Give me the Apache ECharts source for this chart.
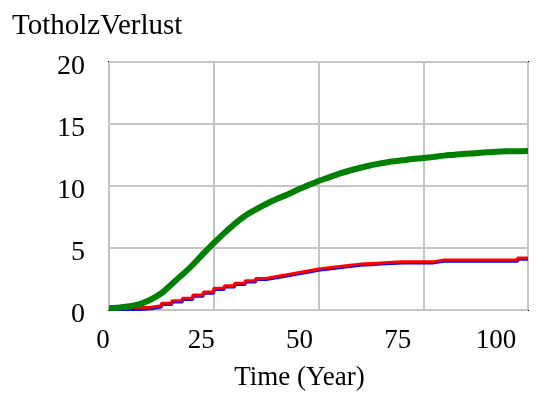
<!DOCTYPE html>
<html>
<head>
<meta charset="utf-8">
<script src="https://cdn.jsdelivr.net/npm/echarts@6/dist/echarts.min.js"></script>
<style>
  html, body { margin: 0; padding: 0; background: #fff; }
  #chart { width: 557px; height: 394px; }
</style>
</head>
<body>
<div id="chart"></div>
<script>
// time steps (years)
var years = [0, 2.5, 5, 7.5, 10, 12.5, 15, 17.5, 20, 22.5, 25, 27.5, 30, 32.5, 35, 37.5, 40,
  42.5, 45, 47.5, 50, 52.5, 55, 57.5, 60, 62.5, 65, 67.5, 70, 72.5, 75, 77.5, 80,
  82.5, 85, 87.5, 90, 92.5, 95, 97.5, 100];

var greenVals = [0.15, 0.2, 0.3, 0.5, 0.85, 1.35, 2.1, 2.85, 3.65, 4.55, 5.4, 6.2, 6.95, 7.6, 8.1,
  8.55, 8.95, 9.3, 9.7, 10.05, 10.4, 10.7, 11.0, 11.25, 11.47, 11.67, 11.83, 11.97, 12.07,
  12.17, 12.25, 12.35, 12.45, 12.52, 12.6, 12.65, 12.72, 12.76, 12.8, 12.8, 12.82];

var redVals = [0.2, 0.2, 0.2, 0.22, 0.35, 0.55, 0.75, 0.95, 1.2, 1.45, 1.75, 1.95, 2.15, 2.35,
  2.55, 2.7, 2.85, 3.0, 3.15, 3.3, 3.4, 3.5, 3.6, 3.7, 3.75, 3.8, 3.85, 3.9, 3.9, 3.9,
  3.9, 4.03, 4.03, 4.03, 4.03, 4.03, 4.03, 4.03, 4.03, 4.2, 4.2];

var blueVals = [0.05, 0.05, 0.05, 0.1, 0.25, 0.45, 0.65, 0.85, 1.1, 1.35, 1.65, 1.85, 2.05, 2.25,
  2.45, 2.6, 2.75, 2.9, 3.05, 3.2, 3.3, 3.4, 3.5, 3.6, 3.65, 3.7, 3.75, 3.8, 3.8, 3.8,
  3.8, 3.93, 3.93, 3.93, 3.93, 3.93, 3.93, 3.93, 3.93, 4.1, 4.1];

var xTicks = [0, 25, 50, 75, 100];
var yTicks = [0, 5, 10, 15, 20];

function pairs(xs, ys) {
  return xs.map(function (x, i) { return [x, ys[i]]; });
}

var font = '"Liberation Serif", "Times New Roman", serif';

var chart = echarts.init(document.getElementById('chart'));

var option = {
  animation: false,
  backgroundColor: '#fff',
  title: {
    text: 'TotholzVerlust',
    left: 7,
    top: 7,
    textStyle: { fontFamily: font, fontSize: 29, fontWeight: 'normal', color: '#000' }
  },
  grid: [
    { left: 109, top: 62, right: 29, bottom: 84, outerBoundsMode: 'none', show: true, borderColor: '#000', borderWidth: 2, backgroundColor: '#fff' },
    // label-only grid (tick labels in the original are shifted slightly)
    { left: 103, top: 67, width: 393, bottom: 79, outerBoundsMode: 'none' }
  ],
  xAxis: [
    {
      gridIndex: 0, type: 'value', min: 0, max: 100, interval: 25,
      axisLine: { show: false }, axisTick: { show: false }, axisLabel: { show: false },
      splitLine: { show: true, lineStyle: { color: '#c4c4c4', width: 2 } }
    },
    {
      gridIndex: 1, type: 'value', min: xTicks[0], max: xTicks[xTicks.length - 1], interval: 25,
      axisLine: { show: false }, axisTick: { show: false }, splitLine: { show: false },
      axisLabel: { margin: 12, fontFamily: font, fontSize: 27, color: '#000' },
      name: 'Time (Year)', nameLocation: 'middle', nameGap: 49,
      nameTextStyle: { fontFamily: font, fontSize: 27, color: '#000' }
    }
  ],
  yAxis: [
    {
      gridIndex: 0, type: 'value', min: 0, max: 20, interval: 5,
      axisLine: { show: false }, axisTick: { show: false }, axisLabel: { show: false },
      splitLine: { show: true, lineStyle: { color: '#c4c4c4', width: 2 } }
    },
    {
      gridIndex: 1, type: 'value', min: yTicks[0], max: yTicks[yTicks.length - 1], interval: 5,
      axisLine: { show: false }, axisTick: { show: false }, splitLine: { show: false },
      axisLabel: { margin: 18, fontFamily: font, fontSize: 28, color: '#000' }
    }
  ],
  series: [
    {
      type: 'line', xAxisIndex: 0, yAxisIndex: 0, step: 'end', showSymbol: false,
      lineStyle: { color: '#0000ff', width: 3 }, data: pairs(years, blueVals), z: 2
    },
    {
      type: 'line', xAxisIndex: 0, yAxisIndex: 0, step: 'end', showSymbol: false,
      lineStyle: { color: '#ff0000', width: 3 }, data: pairs(years, redVals), z: 3
    },
    {
      type: 'line', xAxisIndex: 0, yAxisIndex: 0, showSymbol: false, smooth: 0.3,
      lineStyle: { color: '#008000', width: 6 }, data: pairs(years, greenVals), z: 4
    },
    // dummy series so the label grid axes render
    { type: 'line', xAxisIndex: 1, yAxisIndex: 1, data: [], silent: true }
  ]
};

chart.setOption(option);
</script>
</body>
</html>
